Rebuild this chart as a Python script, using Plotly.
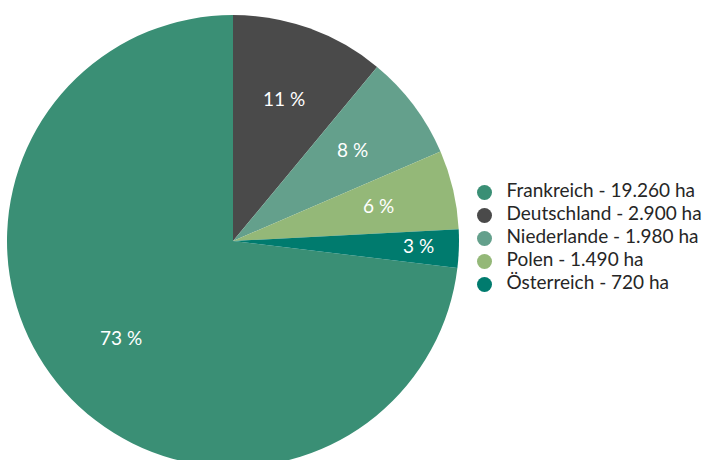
import math
import plotly.graph_objects as go

# Anbaufläche nach Land (ha)
countries = ["Frankreich", "Deutschland", "Niederlande", "Polen", "Österreich"]
area_ha = [19260, 2900, 1980, 1490, 720]
area_labels = ["19.260 ha", "2.900 ha", "1.980 ha", "1.490 ha", "720 ha"]
colors = ["#3a8f75", "#4a4a4a", "#64a08c", "#94b878", "#007b6e"]

W, H = 704, 482
cx, cy, R = 233, 241, 226          # pie centre / radius in px (top-down)
FONT = "Lato, 'Open Sans', sans-serif"

total = sum(area_ha)
shares = [v / total for v in area_ha]
pct_text = [f"{round(s * 100)} %" for s in shares]

# first slice (Frankreich) ends at 12 o'clock, the rest follow clockwise
rotation = 360 * (1 - shares[0])

fig = go.Figure()
fig.add_trace(go.Pie(
    labels=countries,
    values=area_ha,
    sort=False,
    direction="clockwise",
    rotation=rotation,
    marker=dict(colors=colors, line=dict(width=0)),
    textinfo="none",
    hoverinfo="label+value+percent",
    showlegend=False,
    domain=dict(x=[(cx - R) / W, (cx + R) / W],
                y=[(H - cy - R) / H, (H - cy + R) / H]),
))

# percentage labels placed along each slice's mid angle
annotations = []
start = rotation
for share, txt in zip(shares, pct_text):
    mid = start + share * 180
    start += share * 360
    rf = 0.66 if share > 0.04 else 0.82
    a = math.radians(mid)
    px = cx + rf * R * math.sin(a)
    py = cy - rf * R * math.cos(a)
    annotations.append(dict(
        x=px / W, y=(H - py) / H, xref="paper", yref="paper",
        text=txt, showarrow=False, yshift=2,
        font=dict(family=FONT, size=19, color="white"),
        xanchor="center", yanchor="middle",
    ))

# legend drawn as a marker column plus a text column, one row per country
row0, row_gap = 192.5, 23
leg_x, leg_w = 484.5, W - 484.5
text_gap = 22                      # px from marker centre to text start
idx = list(range(len(countries)))
legend_text = [f"{c} - {a}" for c, a in zip(countries, area_labels)]
fig.add_trace(go.Scatter(
    x=[0] * len(idx), y=idx, mode="markers",
    marker=dict(color=colors, size=15, symbol="circle"),
    cliponaxis=False, showlegend=False, hoverinfo="skip",
))
fig.add_trace(go.Scatter(
    x=[text_gap / leg_w] * len(idx), y=idx, mode="text",
    text=legend_text, textposition="middle right",
    textfont=dict(family=FONT, size=19, color="#262626"),
    cliponaxis=False, showlegend=False, hoverinfo="skip",
))

fig.update_layout(
    width=W, height=H,
    margin=dict(l=0, r=0, t=0, b=0),
    paper_bgcolor="white", plot_bgcolor="rgba(0,0,0,0)",
    annotations=annotations,
    xaxis=dict(domain=[leg_x / W, 1], range=[0, 1], visible=False, fixedrange=True),
    yaxis=dict(domain=[0, 1],
               range=[(H - row0) / row_gap, -row0 / row_gap],
               visible=False, fixedrange=True),
)

fig.write_html("out.html", config={"displayModeBar": False},
               post_script="document.body.style.overflow='hidden';")
